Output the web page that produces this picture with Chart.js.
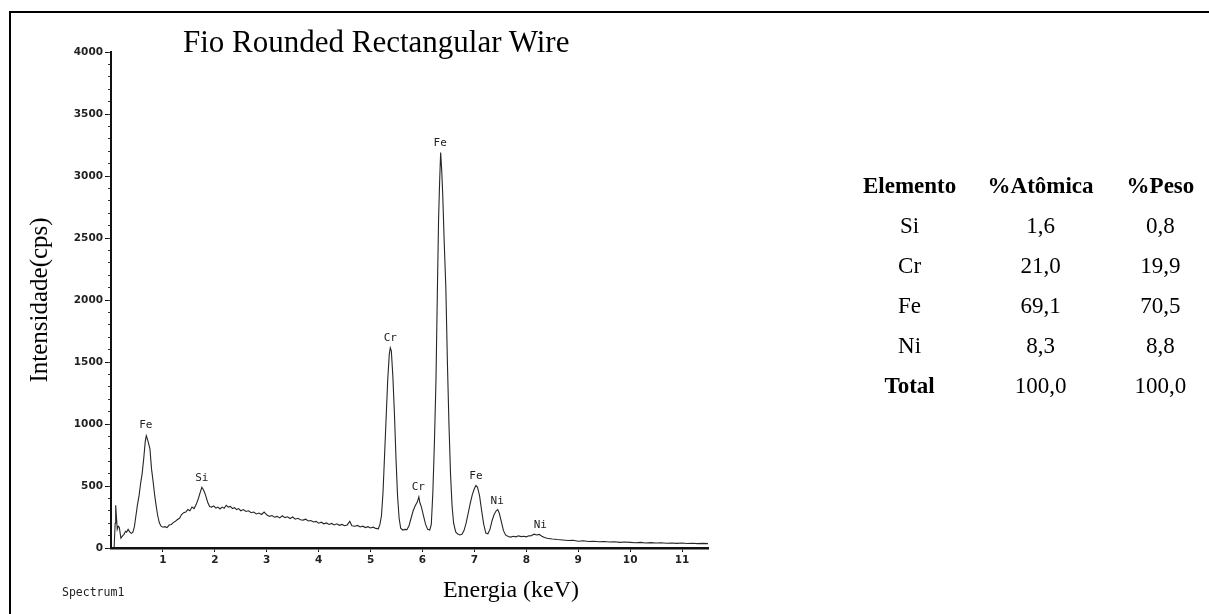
<!DOCTYPE html>
<html>
<head>
<meta charset="utf-8">
<script src="https://cdn.jsdelivr.net/npm/chart.js@4.4.1/dist/chart.umd.min.js"></script>
<style>
    html, body { margin: 0; padding: 0; background: #fff; }
    body { width: 1209px; height: 614px; position: relative; overflow: hidden; }
    #wrap { position: absolute; left: 0; top: 0; width: 1209px; height: 614px; }
    .frame { position: absolute; left: 9px; top: 11px; width: 1300px; height: 700px; border-top: 2px solid #000; border-left: 2px solid #000; }
    .serif { position: absolute; white-space: nowrap; color: #000; font-family: 'Liberation Serif', 'Times New Roman', serif; }
    #title { left: 183px; top: 26px; font-size: 31px; line-height: 31px; }
    #xtitle { left: 511px; top: 577px; font-size: 24px; line-height: 24px; transform: translateX(-50%); }
    #spec { position: absolute; left: 62px; top: 584px; font: 11.5px 'DejaVu Sans Mono', monospace; line-height: 16px; color: #222; }
    #comp { position: absolute; left: 850px; top: 166px; border-collapse: collapse; font-family: 'Liberation Serif', 'Times New Roman', serif; font-size: 23px; color: #000; }
    #comp td { padding: 0; height: 40px; line-height: 40px; text-align: center; white-space: nowrap; }
    #comp .b { font-weight: bold; }
</style>
</head>
<body>
<div class="frame"></div>
<div id="wrap"><canvas id="spectrum"></canvas></div>
<div id="title" class="serif">Fio Rounded Rectangular Wire</div>
<div id="xtitle" class="serif">Energia (keV)</div>
<div id="spec">Spectrum1</div>
<table id="comp"></table>
<script>
// EDS spectrum (keV / counts)
var energy = [
    0.06, 0.08, 0.09, 0.11, 0.12, 0.14, 0.16, 0.19, 0.22, 0.25, 0.28, 0.30, 0.33, 0.36, 0.39, 0.42,
    0.45, 0.48, 0.51, 0.54, 0.57, 0.60, 0.63, 0.66, 0.68, 0.70, 0.72, 0.75, 0.78, 0.81, 0.84, 0.87,
    0.90, 0.93, 0.96, 1.00, 1.04, 1.08, 1.12, 1.16, 1.20, 1.24, 1.28, 1.32, 1.36, 1.40, 1.44, 1.48,
    1.52, 1.56, 1.60, 1.64, 1.68, 1.72, 1.75, 1.78, 1.81, 1.84, 1.87, 1.90, 1.94, 1.98, 2.02, 2.06,
    2.10, 2.14, 2.18, 2.22, 2.26, 2.30, 2.34, 2.38, 2.42, 2.46, 2.50, 2.55, 2.60, 2.65, 2.70, 2.75,
    2.80, 2.85, 2.90, 2.95, 3.00, 3.05, 3.10, 3.15, 3.20, 3.25, 3.30, 3.35, 3.40, 3.45, 3.50, 3.55,
    3.60, 3.65, 3.70, 3.75, 3.80, 3.85, 3.90, 3.95, 4.00, 4.05, 4.10, 4.15, 4.20, 4.25, 4.30, 4.35,
    4.40, 4.45, 4.50, 4.55, 4.60, 4.64, 4.70, 4.75, 4.80, 4.85, 4.90, 4.95, 5.00, 5.05, 5.10, 5.15,
    5.18, 5.21, 5.24, 5.27, 5.30, 5.33, 5.36, 5.38, 5.40, 5.43, 5.46, 5.49, 5.52, 5.55, 5.58, 5.62,
    5.66, 5.70, 5.74, 5.78, 5.82, 5.86, 5.90, 5.93, 5.95, 5.98, 6.02, 6.06, 6.10, 6.14, 6.17, 6.20,
    6.23, 6.26, 6.29, 6.31, 6.33, 6.35, 6.37, 6.39, 6.42, 6.45, 6.48, 6.51, 6.54, 6.57, 6.60, 6.64,
    6.68, 6.72, 6.76, 6.80, 6.84, 6.88, 6.92, 6.96, 7.00, 7.03, 7.06, 7.10, 7.14, 7.18, 7.22, 7.26,
    7.30, 7.34, 7.38, 7.42, 7.45, 7.48, 7.52, 7.56, 7.60, 7.65, 7.70, 7.75, 7.80, 7.85, 7.90, 7.95,
    8.00, 8.05, 8.10, 8.15, 8.20, 8.25, 8.30, 8.35, 8.40, 8.50, 8.60, 8.70, 8.80, 8.90, 9.00, 9.10,
    9.20, 9.30, 9.40, 9.50, 9.60, 9.70, 9.80, 9.90, 10.00, 10.10, 10.20, 10.30, 10.40, 10.50, 10.60, 10.70,
    10.80, 10.90, 11.00, 11.10, 11.20, 11.30, 11.40, 11.50
];
var counts = [
    0, 200, 345, 220, 150, 175, 168, 80, 95, 110, 135, 128, 150, 130, 118, 125,
    170, 260, 350, 420, 520, 600, 720, 860, 905, 880, 850, 800, 640, 540, 430, 340,
    260, 205, 178, 168, 172, 165, 185, 190, 205, 215, 230, 240, 270, 285, 290, 310,
    300, 330, 318, 350, 395, 450, 490, 470, 440, 400, 360, 335, 330, 340, 322, 330,
    315, 330, 320, 345, 330, 335, 318, 325, 310, 318, 300, 310, 295, 300, 285, 290,
    275, 282, 270, 290, 268, 255, 262, 248, 255, 243, 260, 245, 252, 238, 250, 232,
    240, 228, 225, 232, 218, 222, 210, 215, 200, 208, 195, 202, 190, 198, 186, 195,
    183, 190, 180, 186, 215, 180, 175, 182, 170, 176, 165, 172, 162, 168, 158, 155,
    190, 260, 450, 750, 1050, 1350, 1560, 1615, 1590, 1380, 1080, 720, 420, 240, 160, 145,
    150, 148, 180, 240, 300, 340, 370, 412, 365, 330, 260, 190, 150, 145, 190, 450,
    850, 1350, 2150, 2650, 2950, 3190, 3050, 2850, 2450, 2100, 1500, 1000, 600, 340, 200, 130,
    112, 105, 110, 140, 200, 280, 360, 430, 480, 505, 490, 420, 300, 190, 120, 115,
    150, 220, 270, 300, 310, 280, 210, 140, 105, 92, 88, 95, 90, 98, 92, 95,
    90, 98, 100, 112, 105, 110, 95, 85, 78, 72, 68, 65, 60, 62, 55, 58,
    52, 55, 50, 52, 48, 50, 45, 48, 45, 42, 45, 40, 43, 40, 42, 38,
    40, 37, 40, 36, 38, 35, 37, 35
];

// tick labels
var yTicks = [0, 500, 1000, 1500, 2000, 2500, 3000, 3500, 4000];
var xTicks = [1, 2, 3, 4, 5, 6, 7, 8, 9, 10, 11];

// peak markers (label position in keV / counts)
var peakNames = ['Fe', 'Si', 'Cr', 'Fe', 'Cr', 'Fe', 'Ni', 'Ni'];
var peakE = [0.67, 1.75, 5.38, 6.34, 5.92, 7.03, 7.44, 8.27];
var peakC = [992, 565, 1694, 3266, 492, 581, 379, 185];

// composition table
var elements = ['Si', 'Cr', 'Fe', 'Ni'];
var atomicPct = ['1,6', '21,0', '69,1', '8,3'];
var weightPct = ['0,8', '19,9', '70,5', '8,8'];
var totalAtomic = '100,0';
var totalWeight = '100,0';

function buildTable() {
    var t = document.getElementById('comp');
    var html = '<tr><td class="b" style="width:120px">Elemento</td><td class="b" style="width:144px">%Atômica</td><td class="b" style="width:98px">%Peso</td></tr>';
    for (var i = 0; i < elements.length; i++) {
        html += '<tr><td>' + elements[i] + '</td><td>' + atomicPct[i] + '</td><td>' + weightPct[i] + '</td></tr>';
    }
    html += '<tr><td class="b">Total</td><td>' + totalAtomic + '</td><td>' + totalWeight + '</td></tr>';
    t.innerHTML = html;
}
buildTable();

var points = [];
for (var i = 0; i < energy.length; i++) points.push({ x: energy[i], y: counts[i] });

var peakLabels = {
    id: 'peakLabels',
    afterDatasetsDraw: function (chart) {
        var ctx = chart.ctx, xs = chart.scales.x, ys = chart.scales.y;
        ctx.save();
        ctx.font = '11px "DejaVu Sans Mono", monospace';
        ctx.fillStyle = '#222';
        ctx.textAlign = 'center';
        ctx.textBaseline = 'middle';
        for (var i = 0; i < peakNames.length; i++) {
            ctx.fillText(peakNames[i], xs.getPixelForValue(peakE[i]), ys.getPixelForValue(peakC[i]));
        }
        ctx.restore();
    }
};

var tickFont = { family: 'DejaVu Sans', size: 10.5, weight: 'bold' };

var chart = new Chart(document.getElementById('spectrum'), {
    type: 'line',
    data: {
        datasets: [{
            data: points,
            borderColor: '#262626',
            borderWidth: 1.1,
            pointRadius: 0,
            tension: 0,
            fill: false
        }]
    },
    options: {
        responsive: true,
        maintainAspectRatio: false,
        animation: false,
        layout: { padding: { left: 0, top: 52, right: 501, bottom: 0 } },
        plugins: { legend: { display: false }, tooltip: { enabled: false } },
        scales: {
            x: {
                type: 'linear',
                min: 0,
                max: 11.5,
                afterBuildTicks: function (s) { s.ticks = xTicks.map(function (v) { return { value: v }; }); },
                afterFit: function (s) { s.height = 66; },
                border: { display: true, color: '#111', width: 2.5 },
                grid: { drawOnChartArea: false, drawTicks: true, tickLength: 4, color: '#222' },
                ticks: { padding: 2, color: '#222', maxRotation: 0, font: tickFont, callback: function (v) { return String(v); } }
            },
            y: {
                type: 'linear',
                position: 'left',
                weight: 1,
                min: 0,
                max: 4000,
                afterBuildTicks: function (s) { s.ticks = yTicks.map(function (v) { return { value: v }; }); },
                afterFit: function (s) { s.width = 111; },
                border: { display: true, color: '#111', width: 2 },
                grid: { drawOnChartArea: false, drawTicks: true, tickLength: 6, color: '#111' },
                ticks: { padding: 2, color: '#222', font: tickFont, callback: function (v) { return String(v); } },
                title: {
                    display: true,
                    text: 'Intensidade(cps)',
                    color: '#000',
                    font: { family: 'Liberation Serif', size: 25 },
                    padding: { top: 25, bottom: 0 }
                }
            },
            yMinor: {
                type: 'linear',
                position: 'left',
                weight: 0,
                min: 0,
                max: 4000,
                afterBuildTicks: function (s) {
                    var t = [];
                    for (var v = 0; v <= 4000; v += 100) t.push({ value: v });
                    s.ticks = t;
                },
                afterFit: function (s) { s.width = 0; },
                border: { display: false },
                grid: { drawOnChartArea: false, drawTicks: true, tickLength: 3, color: '#333' },
                ticks: { display: false }
            }
        }
    },
    plugins: [peakLabels]
});
</script>
</body>
</html>
